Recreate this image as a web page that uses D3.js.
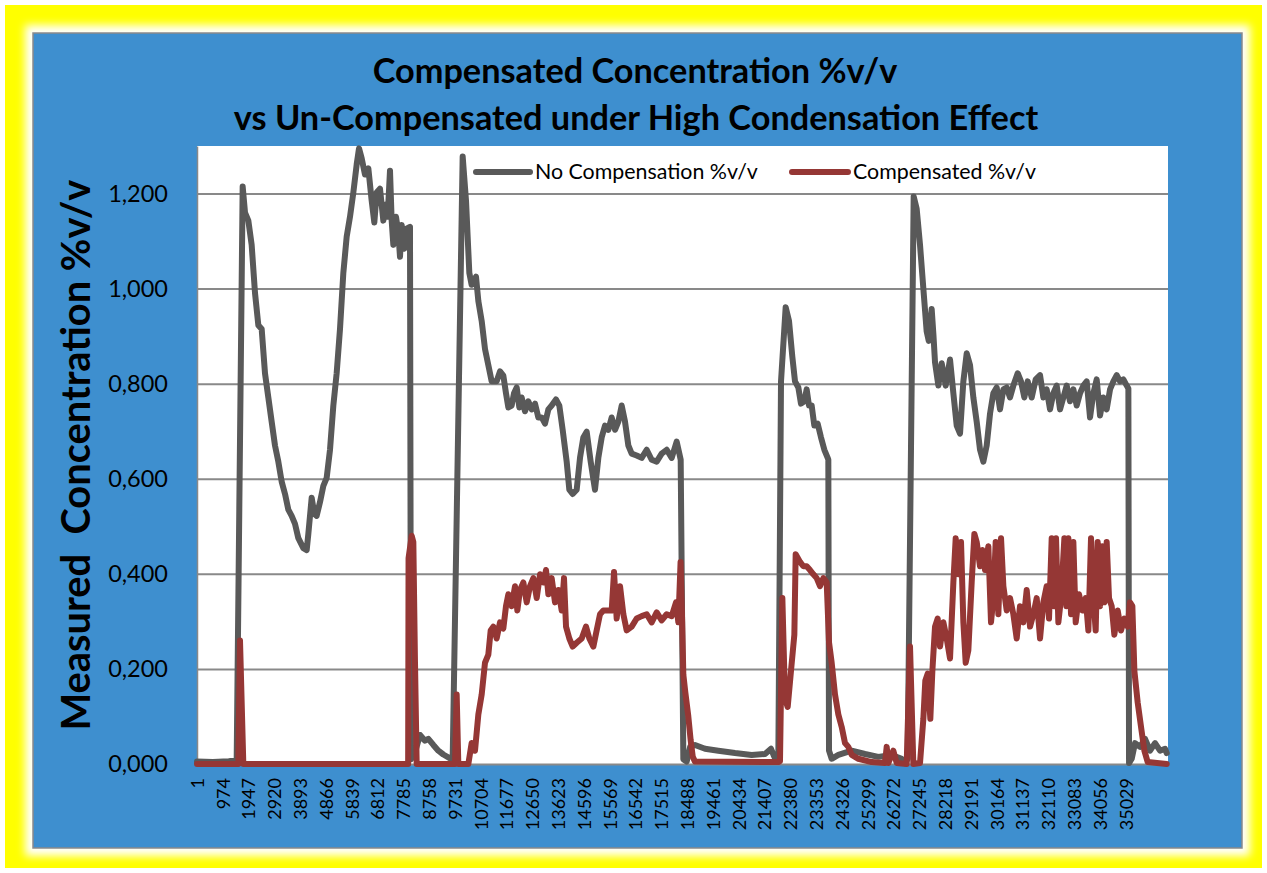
<!DOCTYPE html>
<html><head><meta charset="utf-8">
<script src="https://cdn.jsdelivr.net/npm/d3@7"></script>
<style>html,body{margin:0;padding:0;background:#fff;} svg{display:block;}</style>
</head><body>
<svg id="chart" width="1267" height="873"></svg>
<script>
// ---------------- DATA ----------------
const titleLines = ["Compensated Concentration %v/v", "vs Un-Compensated under High Condensation Effect"];
const yAxisTitle = "Measured  Concentration %v/v";
const seriesNames = ["No Compensation %v/v", "Compensated %v/v"];
const sampleCount = 36624;
const xTickLabels = [1,974,1947,2920,3893,4866,5839,6812,7785,8758,9731,10704,11677,12650,13623,14596,15569,16542,17515,18488,19461,20434,21407,22380,23353,24326,25299,26272,27245,28218,29191,30164,31137,32110,33083,34056,35029];
const yTicks = [0,0.2,0.4,0.6,0.8,1.0,1.2];

// [sample index, value]
const noCompensation = [
[1,0.005],[600,0.004],[1200,0.006],[1497,0.008],[1723,1.215],[1811,1.16],[1937,1.143],[2062,1.092],[2188,0.991],[2314,0.923],[2440,0.915],[2565,0.822],[2691,0.771],[2817,0.72],[2942,0.67],[3068,0.636],[3194,0.594],[3320,0.568],[3445,0.535],[3571,0.522],[3697,0.505],[3823,0.475],[4011,0.454],[4137,0.45],[4200,0.484],[4326,0.56],[4426,0.526],[4514,0.522],[4640,0.551],[4766,0.585],[4891,0.602],[5017,0.661],[5143,0.754],[5268,0.822],[5394,0.915],[5520,1.033],[5646,1.109],[5771,1.151],[5897,1.202],[6023,1.261],[6111,1.295],[6212,1.274],[6337,1.24],[6463,1.253],[6589,1.185],[6689,1.139],[6777,1.202],[6903,1.21],[7029,1.143],[7117,1.177],[7192,1.151],[7280,1.248],[7343,1.143],[7406,1.092],[7507,1.151],[7595,1.117],[7657,1.067],[7720,1.134],[7821,1.084],[7909,1.126],[8034,1.13],[8072,0.01],[8200,0.02],[8412,0.061],[8600,0.049],[8726,0.053],[8915,0.04],[9103,0.028],[9292,0.02],[9543,0.012],[9644,0.01],[10021,1.278],[10147,1.185],[10272,1.033],[10360,1.008],[10524,1.025],[10612,0.974],[10738,0.932],[10863,0.873],[10989,0.839],[11115,0.805],[11303,0.805],[11429,0.826],[11555,0.817],[11655,0.78],[11744,0.75],[11869,0.754],[11957,0.78],[12058,0.792],[12158,0.75],[12246,0.771],[12372,0.742],[12498,0.763],[12624,0.746],[12750,0.758],[12875,0.729],[13001,0.729],[13127,0.716],[13253,0.746],[13378,0.754],[13541,0.767],[13667,0.754],[13793,0.703],[13944,0.636],[14044,0.577],[14170,0.568],[14321,0.577],[14447,0.644],[14572,0.687],[14698,0.699],[14849,0.636],[15012,0.577],[15138,0.644],[15264,0.687],[15390,0.712],[15515,0.703],[15641,0.729],[15767,0.703],[15893,0.72],[16019,0.754],[16144,0.72],[16270,0.67],[16396,0.653],[16584,0.649],[16773,0.644],[16962,0.661],[17150,0.64],[17339,0.636],[17527,0.653],[17716,0.661],[17905,0.644],[18093,0.678],[18194,0.653],[18244,0.64],[18344,0.01],[18470,0.005],[18600,0.036],[18784,0.04],[19161,0.032],[19664,0.028],[20293,0.023],[20922,0.019],[21425,0.021],[21651,0.032],[21777,0.015],[21927,0.011],[22028,0.805],[22204,0.961],[22330,0.932],[22456,0.856],[22556,0.805],[22682,0.792],[22782,0.758],[22908,0.763],[22996,0.788],[23084,0.754],[23185,0.754],[23285,0.712],[23411,0.716],[23537,0.687],[23663,0.661],[23788,0.644],[23813,0.64],[23839,0.028],[23939,0.011],[24191,0.019],[24694,0.028],[25196,0.021],[25699,0.015],[26202,0.019],[26579,0.011],[26705,0.002],[26806,0.011],[27032,1.194],[27145,1.168],[27271,1.092],[27397,1.0],[27522,0.91],[27600,0.89],[27711,0.957],[27780,0.9],[27837,0.845],[27963,0.796],[28089,0.843],[28240,0.796],[28403,0.851],[28529,0.78],[28654,0.712],[28780,0.695],[28906,0.805],[29032,0.864],[29157,0.839],[29283,0.771],[29409,0.72],[29535,0.661],[29660,0.636],[29786,0.67],[29912,0.737],[30037,0.78],[30163,0.792],[30289,0.746],[30415,0.788],[30540,0.792],[30666,0.771],[30792,0.796],[30955,0.822],[31080,0.805],[31206,0.771],[31332,0.805],[31483,0.771],[31634,0.809],[31798,0.818],[31923,0.771],[32049,0.788],[32175,0.746],[32301,0.78],[32426,0.796],[32552,0.746],[32678,0.771],[32804,0.796],[32929,0.763],[33055,0.788],[33181,0.754],[33307,0.78],[33432,0.796],[33558,0.805],[33684,0.729],[33810,0.78],[33935,0.809],[34061,0.733],[34187,0.771],[34312,0.746],[34438,0.788],[34564,0.805],[34690,0.818],[34815,0.805],[34941,0.809],[35067,0.796],[35130,0.79],[35155,0.002],[35255,0.011],[35381,0.044],[35570,0.036],[35758,0.053],[35947,0.028],[36135,0.044],[36324,0.028],[36513,0.032],[36575,0.023]
];

const compensated = [
[1,0],[1560,0],[1622,0.26],[1748,0],[7965,0],[7980,0.433],[8098,0.48],[8160,0.467],[8223,0.213],[8286,0],[9732,0],[9795,0.146],[9857,0],[10235,0],[10360,0.044],[10486,0.028],[10612,0.104],[10738,0.146],[10863,0.213],[10989,0.23],[11077,0.281],[11178,0.289],[11303,0.264],[11429,0.298],[11555,0.285],[11655,0.332],[11744,0.357],[11869,0.332],[11995,0.374],[12083,0.323],[12184,0.366],[12310,0.382],[12435,0.34],[12561,0.374],[12687,0.391],[12813,0.349],[12938,0.399],[13064,0.382],[13164,0.408],[13253,0.357],[13378,0.391],[13504,0.34],[13630,0.366],[13756,0.323],[13843,0.391],[13919,0.289],[14044,0.264],[14170,0.247],[14321,0.255],[14510,0.264],[14673,0.289],[14799,0.264],[14950,0.247],[15075,0.281],[15201,0.315],[15327,0.323],[15515,0.323],[15641,0.323],[15730,0.404],[15830,0.306],[15956,0.374],[16082,0.315],[16207,0.281],[16396,0.289],[16584,0.306],[16773,0.311],[16962,0.315],[17150,0.298],[17339,0.319],[17527,0.302],[17716,0.315],[17905,0.311],[18068,0.34],[18156,0.298],[18240,0.425],[18300,0.30],[18344,0.188],[18420,0.15],[18532,0.10],[18620,0.05],[18700,0.015],[18784,0.005],[21927,0.004],[21990,0.006],[22079,0.349],[22179,0.137],[22280,0.12],[22405,0.196],[22531,0.272],[22581,0.441],[22745,0.425],[22870,0.416],[22996,0.416],[23122,0.408],[23248,0.399],[23374,0.391],[23499,0.374],[23625,0.391],[23751,0.382],[23839,0.256],[23939,0.213],[24065,0.146],[24191,0.104],[24317,0.078],[24442,0.044],[24568,0.036],[24694,0.019],[24945,0.011],[25448,0.004],[25951,0.002],[26014,0.036],[26077,0.002],[26265,0.028],[26391,0.002],[26768,0],[26894,0.247],[27019,0],[27271,0.002],[27397,0.095],[27470,0.175],[27560,0.19],[27620,0.13],[27660,0.095],[27737,0.196],[27837,0.289],[27938,0.306],[28026,0.247],[28152,0.298],[28277,0.264],[28403,0.222],[28529,0.382],[28617,0.475],[28717,0.399],[28818,0.467],[28906,0.298],[28994,0.213],[29094,0.239],[29220,0.382],[29321,0.484],[29409,0.467],[29535,0.416],[29623,0.45],[29723,0.408],[29849,0.458],[29949,0.298],[30037,0.349],[30125,0.467],[30226,0.315],[30327,0.475],[30415,0.374],[30540,0.323],[30666,0.349],[30792,0.315],[30918,0.264],[31043,0.332],[31169,0.298],[31295,0.366],[31420,0.289],[31546,0.315],[31672,0.349],[31798,0.264],[31923,0.34],[32049,0.374],[32137,0.306],[32238,0.475],[32326,0.332],[32401,0.475],[32489,0.298],[32590,0.349],[32716,0.475],[32791,0.332],[32866,0.475],[32967,0.315],[33055,0.467],[33143,0.298],[33269,0.357],[33394,0.323],[33520,0.349],[33621,0.281],[33721,0.475],[33810,0.349],[33897,0.281],[33973,0.467],[34061,0.332],[34149,0.458],[34224,0.34],[34312,0.467],[34400,0.349],[34501,0.332],[34601,0.272],[34727,0.323],[34853,0.281],[34979,0.306],[35104,0.289],[35192,0.34],[35280,0.332],[35356,0.196],[35482,0.129],[35607,0.078],[35733,0.028],[35859,0.004],[36575,0]
];

// ---------------- DRAW ----------------
const FONT = "Lato, 'Open Sans', sans-serif";
const svg = d3.select("#chart");
const defs = svg.append("defs");
const glow = defs.append("filter").attr("id","glow")
  .attr("x","-5%").attr("y","-5%").attr("width","110%").attr("height","110%");
glow.append("feGaussianBlur").attr("stdDeviation", 4);

// frame
svg.append("rect").attr("x",5).attr("y",5).attr("width",1257).attr("height",863).attr("fill","#ffff00");
svg.append("rect").attr("x",25).attr("y",25).attr("width",1225).attr("height",831).attr("fill","#ffffff").attr("filter","url(#glow)");
svg.append("rect").attr("x",33).attr("y",33).attr("width",1209).attr("height",815)
  .attr("fill","#3e8fcf").attr("stroke","#8a8a8a").attr("stroke-width",1.5);

// scales
const plot = {left:197, right:1168, top:146, bottom:764};
const x = d3.scaleLinear().domain([0.5, sampleCount + 0.5]).range([plot.left, plot.right]);
const y = d3.scaleLinear().domain([0, 1.3]).range([plot.bottom, plot.top]);

svg.append("rect").attr("x",plot.left).attr("y",plot.top)
  .attr("width",plot.right-plot.left).attr("height",plot.bottom-plot.top).attr("fill","#ffffff");

// gridlines
const grid = svg.append("g").attr("transform",`translate(${plot.left},0)`)
  .call(d3.axisLeft(y).tickValues(yTicks.filter(d=>d>0)).tickSize(-(plot.right-plot.left)).tickFormat(""));
grid.select(".domain").remove();
grid.selectAll("line").attr("stroke","#898989").attr("stroke-width",2);

// y axis labels
const fmt = v => d3.format(".3f")(v).replace(".", ",");
const yAx = svg.append("g").attr("transform",`translate(${plot.left},0)`)
  .call(d3.axisLeft(y).tickValues(yTicks).tickSize(0).tickPadding(29).tickFormat(fmt));
yAx.select(".domain").attr("stroke","#898989").attr("stroke-width",1.5);
yAx.selectAll("text").attr("font-family",FONT).attr("font-size",23.5).attr("fill","#000");

// x axis
const xAx = svg.append("g").attr("transform",`translate(0,${plot.bottom})`)
  .call(d3.axisBottom(x).tickValues(xTickLabels).tickSize(0).tickFormat(d=>String(d)));
xAx.select(".domain").attr("stroke","#898989").attr("stroke-width",2);
xAx.selectAll("text")
  .attr("font-family",FONT).attr("font-size",18).attr("fill","#000")
  .attr("transform","rotate(-90)").attr("text-anchor","end")
  .attr("x",-14).attr("y",0).attr("dy","0.35em");

// lines
const line = d3.line().x(d=>x(d[0])).y(d=>y(d[1]));
const colors = ["#595959", "#953735"];
[noCompensation, compensated].forEach((s,i)=>{
  svg.append("path").datum(s).attr("d",line).attr("fill","none")
    .attr("stroke",colors[i]).attr("stroke-width",6)
    .attr("stroke-linejoin","round").attr("stroke-linecap","round");
});

function fit(sel, target){
  const w = sel.node().getComputedTextLength();
  const fs = parseFloat(sel.attr("font-size"));
  return fs * target / w;
}

// title
const t1 = svg.append("text").attr("x",635).attr("y",83).attr("text-anchor","middle")
  .attr("font-family",FONT).attr("font-weight","bold").attr("font-size",30).attr("fill","#000").text(titleLines[0]);
const t2 = svg.append("text").attr("x",636).attr("y",130).attr("text-anchor","middle")
  .attr("font-family",FONT).attr("font-weight","bold").attr("font-size",30).attr("fill","#000").text(titleLines[1]);
const tfs = (fit(t1,523) + fit(t2,808)) / 2;
t1.attr("font-size",tfs); t2.attr("font-size",tfs);

// y title
const yt = svg.append("text").attr("transform","translate(90,455) rotate(-90)").attr("text-anchor","middle")
  .attr("font-family",FONT).attr("font-weight","bold").attr("font-size",36).attr("fill","#000")
  .attr("xml:space","preserve").style("white-space","pre").text(yAxisTitle);
yt.attr("font-size", fit(yt,551));

// legend
const legendX = [[476,530,535],[792,848,853]];
const legendY = 172;
const lgTexts = [];
seriesNames.forEach((n,i)=>{
  svg.append("line").attr("x1",legendX[i][0]).attr("x2",legendX[i][1]).attr("y1",legendY).attr("y2",legendY)
    .attr("stroke",colors[i]).attr("stroke-width",6).attr("stroke-linecap","round");
  lgTexts.push(svg.append("text").attr("x",legendX[i][2]).attr("y",legendY).attr("dy","0.35em")
    .attr("font-family",FONT).attr("font-size",20).attr("fill","#000").text(n));
});
const lfs = fit(lgTexts[0],223);
lgTexts.forEach(t=>t.attr("font-size",lfs));
</script>
</body></html>
